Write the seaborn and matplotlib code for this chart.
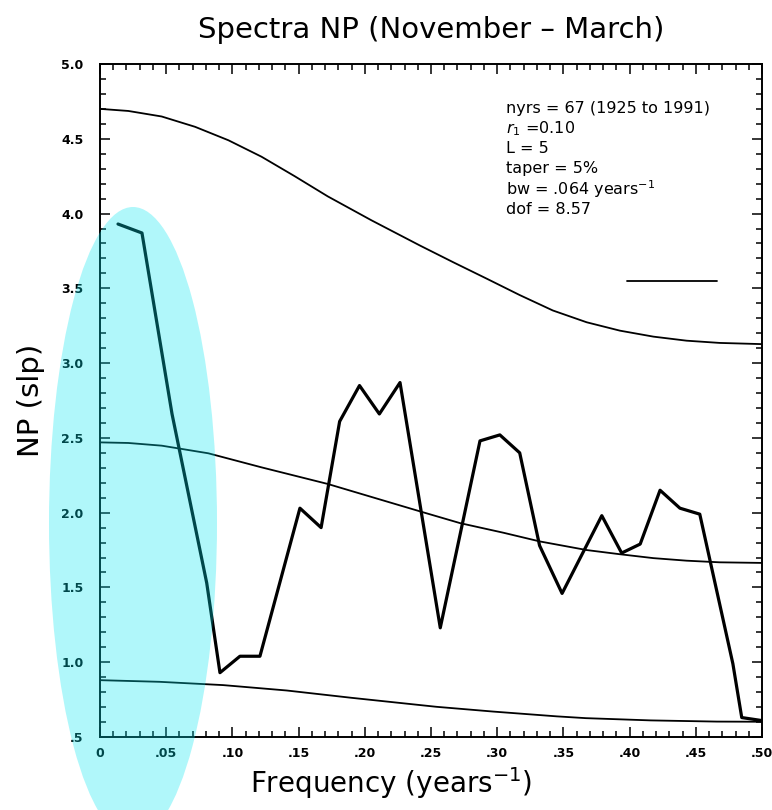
import matplotlib
matplotlib.use("Agg")
import matplotlib.pyplot as plt
import seaborn as sns
import pandas as pd
from matplotlib.patches import Ellipse
from matplotlib.ticker import MultipleLocator

# ---------------- data ----------------
spec_freq = [0.0136, 0.0317, 0.0544, 0.0806, 0.0906, 0.1057, 0.1208, 0.151, 0.167,
             0.181, 0.196, 0.211, 0.2266, 0.257, 0.287, 0.302, 0.317, 0.332, 0.349,
             0.379, 0.394, 0.408, 0.423, 0.438, 0.453, 0.478, 0.4847, 0.4998]
spec_power = [3.93, 3.87, 2.66, 1.53, 0.93, 1.04, 1.04, 2.03, 1.90,
              2.61, 2.85, 2.66, 2.87, 1.23, 2.48, 2.52, 2.40, 1.78, 1.46,
              1.98, 1.73, 1.79, 2.15, 2.03, 1.99, 0.99, 0.63, 0.61]

upper_freq = [0.0, 0.0214, 0.0466, 0.0718, 0.097, 0.122, 0.147, 0.172, 0.205, 0.2417,
              0.2669, 0.292, 0.317, 0.342, 0.3676, 0.3927, 0.418, 0.443, 0.468, 0.5]
upper_val = [4.70, 4.686, 4.649, 4.580, 4.490, 4.380, 4.250, 4.115, 3.955, 3.786,
             3.674, 3.565, 3.455, 3.352, 3.273, 3.217, 3.177, 3.150, 3.135, 3.127]

mid_freq = [0.0, 0.0214, 0.0466, 0.0818, 0.122, 0.172, 0.210, 0.245, 0.272, 0.3046,
            0.332, 0.3676, 0.3927, 0.418, 0.443, 0.468, 0.5]
mid_val = [2.47, 2.466, 2.448, 2.397, 2.303, 2.192, 2.092, 2.0, 1.930, 1.866,
           1.808, 1.750, 1.722, 1.696, 1.679, 1.668, 1.664]

low_freq = [0.0, 0.045, 0.093, 0.141, 0.19, 0.254, 0.297, 0.345, 0.367, 0.416, 0.466, 0.5]
low_val = [0.88, 0.869, 0.847, 0.811, 0.762, 0.702, 0.670, 0.638, 0.626, 0.611, 0.603, 0.602]

bw_freq = [0.398, 0.466]
bw_level = [3.55, 3.55]

xtick_vals = [0.0, 0.05, 0.10, 0.15, 0.20, 0.25, 0.30, 0.35, 0.40, 0.45, 0.50]
xtick_labels = ["0", ".05", ".10", ".15", ".20", ".25", ".30", ".35", ".40", ".45", ".50"]
ytick_vals = [0.5, 1.0, 1.5, 2.0, 2.5, 3.0, 3.5, 4.0, 4.5, 5.0]
ytick_labels = [".5", "1.0", "1.5", "2.0", "2.5", "3.0", "3.5", "4.0", "4.5", "5.0"]

info_lines = ["nyrs = 67 (1925 to 1991)", r"$r_1$ =0.10", "L = 5", "taper = 5%",
              r"bw = .064 years$^{-1}$", "dof = 8.57"]

title_text = "Spectra NP (November – March)"
xlabel_text = r"Frequency (years$^{-1}$)"
ylabel_text = "NP (slp)"

# ---------------- figure ----------------
sns.set_style("white")
plt.rcParams['font.family'] = ['DejaVu Sans']
plt.rcParams['mathtext.fontset'] = 'dejavusans'
plt.rcParams['text.color'] = 'black'
plt.rcParams['axes.labelcolor'] = 'black'
plt.rcParams['xtick.color'] = 'black'
plt.rcParams['ytick.color'] = 'black'

fig = plt.figure(figsize=(7.72, 8.10), dpi=100)
ax = fig.add_axes([100/772, 1 - 737/810, 662/772, 673/810])

def draw(xs, ys, lw):
    df = pd.DataFrame({"x": xs, "y": ys})
    sns.lineplot(data=df, x="x", y="y", ax=ax, color="black", linewidth=lw,
                 sort=False, estimator=None)

draw(upper_freq, upper_val, 1.3)
draw(mid_freq, mid_val, 1.3)
draw(low_freq, low_val, 1.3)
draw(spec_freq, spec_power, 2.3)
draw(bw_freq, bw_level, 1.3)

ax.set_xlim(0, 0.5)
ax.set_ylim(0.5, 5.0)
ax.set_xticks(xtick_vals)
ax.set_xticklabels(xtick_labels, fontsize=9, fontweight="bold", color="black")
ax.set_yticks(ytick_vals)
ax.set_yticklabels(ytick_labels, fontsize=9, fontweight="bold", color="black")
ax.xaxis.set_minor_locator(MultipleLocator(0.01))
ax.yaxis.set_minor_locator(MultipleLocator(0.1))
ax.tick_params(which="both", direction="in", top=True, right=True, bottom=True,
               left=True, width=1.1, color="black")
ax.tick_params(which="major", length=7)
ax.tick_params(which="minor", length=4)
ax.tick_params(axis="y", which="major", pad=12)
ax.tick_params(axis="x", which="major", pad=7)
for s in ax.spines.values():
    s.set_visible(True)
    s.set_linewidth(1.4)
    s.set_color("black")

ax.set_title(title_text, fontsize=21, pad=19, color="black")
ax.set_xlabel(xlabel_text, fontsize=20, va="center", color="black")
ax.xaxis.set_label_coords(0.44, -0.068)
ax.set_ylabel(ylabel_text, fontsize=21, va="center", color="black")
ax.yaxis.set_label_coords(-0.104, 0.5)

for i, line in enumerate(info_lines):
    py = 108 + i * 20.2
    ax.text((506 - 100) / 662, (737 - py) / 673, line, transform=ax.transAxes,
            fontsize=11.5, ha="left", va="center", color="black")

ell = Ellipse((133/772, 1 - 523/810), 168/772, 632/810, transform=fig.transFigure,
              facecolor=(0, 230/255, 240/255), alpha=0.31, edgecolor="none", zorder=10)
fig.add_artist(ell)

fig.savefig("out.png", dpi=100)
